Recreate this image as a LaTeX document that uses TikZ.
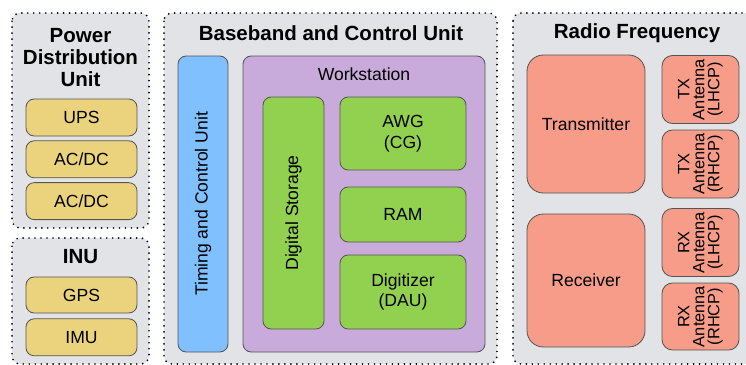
\documentclass[tikz,border=0pt]{standalone}
\usepackage{fontspec}
\setmainfont{Liberation Sans}
\usetikzlibrary{positioning}

\definecolor{panelgray}{RGB}{225,227,230}
\definecolor{pdyellow}{RGB}{234,211,124}
\definecolor{tcblue}{RGB}{128,192,255}
\definecolor{wspurple}{RGB}{201,171,219}
\definecolor{wsgreen}{RGB}{146,208,80}
\definecolor{rfsalmon}{RGB}{247,156,136}
\definecolor{boxline}{RGB}{85,85,85}

\begin{document}
\begin{tikzpicture}[x=0.03cm, y=-0.03cm,
    panel/.style={fill=panelgray, draw=black, line width=1.6pt, line cap=round, dash pattern=on 0pt off 5.1pt, rounded corners=7pt},
    title/.style={font=\fontsize{17.5}{19}\selectfont\bfseries, align=center, inner sep=0},
    blk/.style={draw=boxline, line width=0.7pt, rounded corners=#1, font=\fontsize{15}{17.5}\selectfont, align=center, inner sep=0},
    blk/.default=7pt,
    sz/.style 2 args={minimum width=#1*0.03cm, minimum height=#2*0.03cm},
    ybox/.style={blk, fill=pdyellow, sz={111}{37}},
    gbox/.style={blk, fill=wsgreen},
    ant/.style={blk=9pt, fill=rfsalmon, sz={68}{77}, rotate=90, font=\fontsize{14}{12.8}\selectfont}]
  \useasboundingbox (0,0) rectangle (746,365);
  \clip (0,0) rectangle (746,365);

  % dotted group panels
  \draw [panel] (12,13) rectangle (149,228);
  \draw [panel] (12,238) rectangle (149,364);
  \draw [panel] (164,13) rectangle (497,364);
  \draw [panel] (513,13) rectangle (770,364);

  % power distribution and INU
  \node [title] (pdu) at (80.5,57.5) {Power\\Distribution\\Unit};
  \node [ybox] (ups) at (81.5,117.5) {UPS};
  \node [ybox, below=0.12cm of ups] (acdca) {AC/DC};
  \node [ybox, below=0.12cm of acdca] (acdcb) {AC/DC};
  \node [title] (inu) at (80.5,257) {INU};
  \node [ybox, sz={111}{36}] (gps) at (81.5,295) {GPS};
  \node [ybox, below=0.15cm of gps] (imu) {IMU};

  % baseband and control
  \node [title] (bcu) at (331,33) {Baseband and Control Unit};
  \node [blk, fill=tcblue, sz={50}{296}] (tcu) at (203,204) {};
  \node [rotate=90, font=\fontsize{15}{17.5}\selectfont] (tcutext) at (tcu.center) {Timing and Control Unit};
  \node [blk, fill=wspurple, sz={242}{296}] (ws) at (364,204) {};
  \node [font=\fontsize{15}{17.5}\selectfont, inner sep=0] (wstext) at (364,74) {Workstation};
  \node [gbox, sz={61}{232}] (dst) at (293.5,213) {};
  \node [rotate=90, font=\fontsize{15}{17.5}\selectfont] (dsttext) at (dst.center) {Digital Storage};
  \node [gbox, sz={126}{73}] (awg) at (403,133.5) {AWG\\(CG)};
  \node [gbox, sz={126}{55}] (ram) at (403,214.5) {RAM};
  \node [gbox, sz={126}{74}] (dig) at (403,292) {Digitizer\\(DAU)};

  % radio frequency
  \node [title] (rf) at (637,33) {Radio Frequency};
  \node [blk=14pt, fill=rfsalmon, sz={118}{138}] (tx) at (586,124) {Transmitter};
  \node [blk=14pt, fill=rfsalmon, sz={118}{133}] (rx) at (586,280.5) {Receiver};
  \node [ant] (txl) at (700.5,89.5) {TX\\Antenna\\(LHCP)};
  \node [ant] (txr) at (700.5,164) {TX\\Antenna\\(RHCP)};
  \node [ant] (rxl) at (700.5,242.5) {RX\\Antenna\\(LHCP)};
  \node [ant, sz={67}{77}] (rxr) at (700.5,316.5) {RX\\Antenna\\(RHCP)};
\end{tikzpicture}
\end{document}
